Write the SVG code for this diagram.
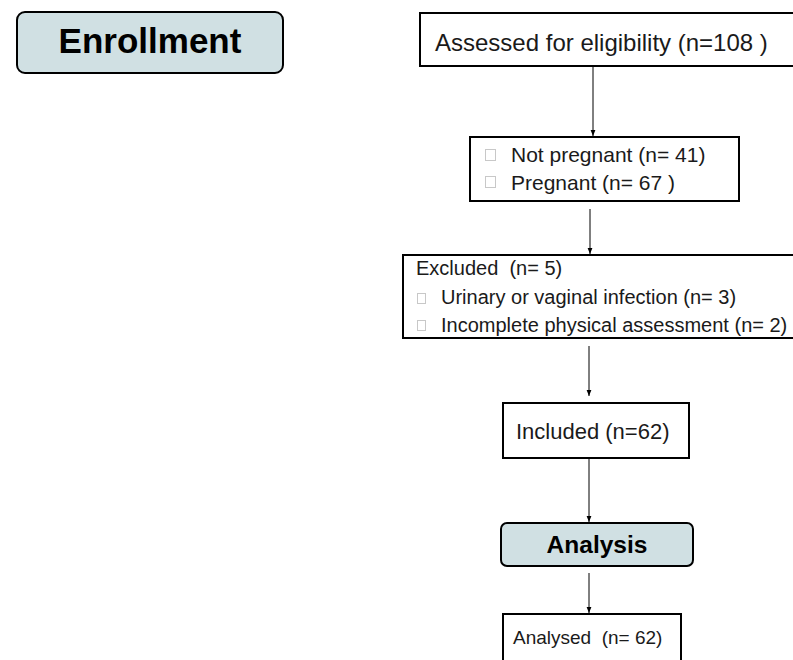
<svg xmlns="http://www.w3.org/2000/svg" width="793" height="660" viewBox="0 0 793 660">
<defs>
<style>
.box{fill:#fff;stroke:#000;stroke-width:2}
.hdr{fill:#d0e0e3;stroke:#000;stroke-width:2}
.t{font-family:"Liberation Sans",Arial,sans-serif;fill:#1a1a1a}
.b{font-family:"Liberation Sans",Arial,sans-serif;font-weight:bold;fill:#000}
.sq{fill:#fff;stroke:#c8c8c8;stroke-width:1}
.c{stroke:#000;stroke-width:1;fill:none;marker-end:url(#ah)}
</style>
<marker id="ah" viewBox="0 0 10 10" refX="10" refY="5" markerWidth="6" markerHeight="8" orient="auto" markerUnits="userSpaceOnUse">
<path d="M0,1 L10,5 L0,9 Z" fill="#000"/>
</marker>
</defs>
<rect width="793" height="660" fill="#fff"/>
<g id="enrollment">
<rect class="hdr" x="17" y="12" width="266" height="61" rx="8"/>
<text class="b" x="150" y="53" font-size="35" text-anchor="middle">Enrollment</text>
</g>
<g id="assessed">
<rect class="box" x="420" y="13" width="380" height="53"/>
<text class="t" x="435" y="51" font-size="24">Assessed for eligibility (n=108 )</text>
</g>
<g id="pregnancy">
<rect class="box" x="470" y="137" width="269" height="64"/>
<rect class="sq" x="485.5" y="149.5" width="10" height="11"/>
<text class="t" x="511" y="162" font-size="21">Not pregnant (n= 41)</text>
<rect class="sq" x="485.5" y="176.5" width="10" height="11"/>
<text class="t" x="511" y="190" font-size="21">Pregnant (n= 67 )</text>
</g>
<g id="excluded">
<rect class="box" x="403" y="255" width="395" height="83"/>
<text class="t" x="416" y="275" font-size="20" xml:space="preserve">Excluded  (n= 5)</text>
<rect class="sq" x="417.5" y="293.5" width="8" height="10"/>
<text class="t" x="441" y="304" font-size="20">Urinary or vaginal infection (n= 3)</text>
<rect class="sq" x="417.5" y="320.5" width="8" height="10"/>
<text class="t" x="441" y="332" font-size="20">Incomplete physical assessment (n= 2)</text>
</g>
<g id="included">
<rect class="box" x="503" y="403" width="186" height="55"/>
<text class="t" x="516" y="439" font-size="22">Included (n=62)</text>
</g>
<g id="analysis">
<rect class="hdr" x="501" y="523" width="192" height="43" rx="6"/>
<text class="b" x="597" y="553" font-size="24.5" text-anchor="middle">Analysis</text>
</g>
<g id="analysed">
<rect class="box" x="503" y="614" width="178" height="60"/>
<text class="t" x="513" y="644" font-size="19" xml:space="preserve">Analysed  (n= 62)</text>
</g>
<g id="connectors">
<line class="c" x1="593" y1="67" x2="593" y2="136"/>
<line class="c" x1="590" y1="209" x2="590" y2="254"/>
<line class="c" x1="589" y1="346" x2="589" y2="396"/>
<line class="c" x1="589" y1="459" x2="589" y2="522"/>
<line class="c" x1="589" y1="573" x2="589" y2="613"/>
</g>
</svg>
